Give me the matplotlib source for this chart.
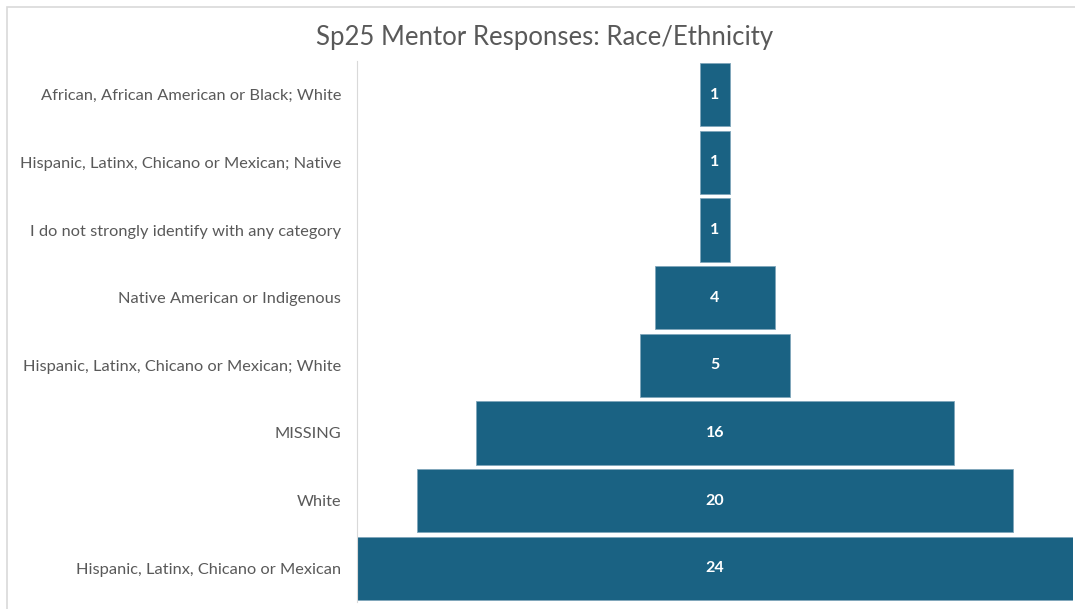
import numpy as np
import matplotlib.pyplot as plt
from matplotlib.patches import Rectangle

# datos del embudo (de arriba hacia abajo)
categorias = [
    'African, African American or Black; White',
    'Hispanic, Latinx, Chicano or Mexican; Native',
    'I do not strongly identify with any category',
    'Native American or Indigenous',
    'Hispanic, Latinx, Chicano or Mexican; White',
    'MISSING',
    'White',
    'Hispanic, Latinx, Chicano or Mexican',
]
respuestas = [1, 1, 1, 4, 5, 16, 20, 24]

color_barra = '#1a6283'
color_texto = '#595959'

plt.rcParams['font.family'] = ['Lato', 'DejaVu Sans']

fig = plt.figure(figsize=(10.75, 6.09), dpi=100)

# marco gris del grafico
fig.patches.append(Rectangle((7 / 1075, -0.05), 1.1, 1 - 7 / 609 + 0.05,
                             transform=fig.transFigure, fill=False,
                             edgecolor='#d9d9d9', linewidth=1.2))

ax = fig.add_axes([357 / 1075, 7 / 609, 716 / 1075, 541 / 609])

y = np.arange(len(categorias))
vals = np.array(respuestas)
ax.barh(y, vals, left=-vals / 2, height=0.935, color=color_barra,
        edgecolor='#7fa6bb', linewidth=0.6)

for yi, v in zip(y, vals):
    ax.text(0, yi, str(v), ha='center', va='center', color='white',
            fontsize=11.5, fontweight='bold')

ax.set_xlim(-12, 12)
ax.set_ylim(len(categorias) - 0.5, -0.5)
ax.set_yticks(y)
ax.set_yticklabels(categorias, fontsize=11.8, color=color_texto)
ax.tick_params(axis='y', length=0, pad=11.5)
ax.set_xticks([])
for s in ['top', 'right', 'bottom']:
    ax.spines[s].set_visible(False)
ax.spines['left'].set_color('#d9d9d9')

fig.text(545 / 1075, 1 - 37 / 609, 'Sp25 Mentor Responses: Race/Ethnicity',
         ha='center', va='center', fontsize=18.5, color=color_texto)

fig.savefig('out.png', dpi=100)
